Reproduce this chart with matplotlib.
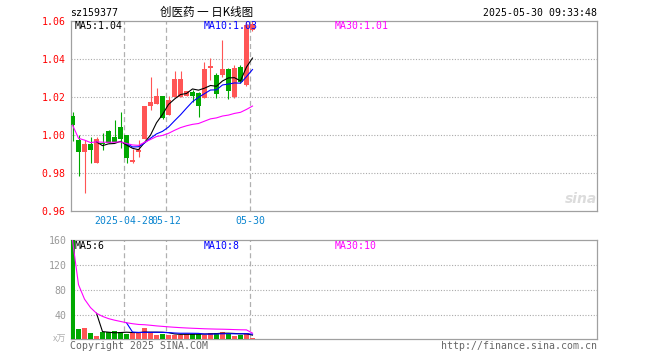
import numpy as np
import pandas as pd
import matplotlib
matplotlib.use('Agg')
import matplotlib.pyplot as plt

plt.rcParams['font.family'] = ['DejaVu Sans Mono', 'Noto Sans CJK SC']

# 31 daily sessions, 2025-04-15 .. 2025-05-30 (last one intraday)
opens = [1.0098, 0.9972, 0.9911, 0.9953, 0.9853, 0.9958, 1.0020, 0.9988, 1.0040, 0.9998,
         0.9856, 0.9911, 0.9976, 1.0151, 1.0162, 1.0204, 1.0104, 1.0197, 1.0197, 1.0205,
         1.0225, 1.0221, 1.0195, 1.0349, 1.0314, 1.0314, 1.0346, 1.0200, 1.0356, 1.0262,
         1.0550]
highs = [1.0121, 1.0000, 0.9972, 0.9986, 0.9986, 1.0007, 1.0025, 1.0077, 1.0118, 0.9998,
         0.9923, 0.9972, 1.0151, 1.0304, 1.0247, 1.0204, 1.0204, 1.0336, 1.0336, 1.0232,
         1.0235, 1.0225, 1.0384, 1.0406, 1.0325, 1.0500, 1.0350, 1.0367, 1.0365, 1.0600,
         1.0620]
lows = [0.9968, 0.9783, 0.9695, 0.9849, 0.9853, 0.9920, 0.9958, 0.9960, 0.9928, 0.9849,
        0.9849, 0.9884, 0.9976, 1.0130, 1.0162, 1.0080, 1.0104, 1.0197, 1.0197, 1.0205,
        1.0170, 1.0091, 1.0195, 1.0290, 1.0195, 1.0305, 1.0190, 1.0195, 1.0270, 1.0255,
        1.0545]
closes = [1.0051, 0.9911, 0.9953, 0.9920, 0.9976, 0.9952, 0.9958, 0.9963, 0.9976, 0.9879,
          0.9867, 0.9920, 1.0151, 1.0172, 1.0204, 1.0086, 1.0183, 1.0292, 1.0292, 1.0232,
          1.0205, 1.0151, 1.0344, 1.0363, 1.0212, 1.0344, 1.0232, 1.0349, 1.0279, 1.0577,
          1.0580]
# volume in 万
volumes = [160, 16.6, 18.2, 10.2, 5.4, 11.8, 11.8, 13.4, 12.3, 8.0,
           9.6, 10.7, 18.2, 11.2, 7.5, 9.3, 7.7, 7.7, 7.7, 8.5,
           8.8, 9.3, 7.7, 9.9, 10.4, 12.0, 9.3, 5.5, 7.7, 9.9,
           1.6]

date_idx = [9, 16, 30]
date_labels = ['2025-04-28', '05-12', '05-30']
price_ticks = [0.96, 0.98, 1.00, 1.02, 1.04, 1.06]
vol_ticks = [40, 80, 120, 160]

price_legend = ['MA5:1.04', 'MA10:1.03', 'MA30:1.01']
vol_legend = ['MA5:6', 'MA10:8', 'MA30:10']

RED = '#ff5555'
GREEN = '#00a800'
GRAY = '#a0a0a0'
MA_COLORS = ['black', '#0000ff', '#ff00ff']
FS = 7.1

n = len(closes)
x = np.arange(n)
up = [c >= o for o, c in zip(opens, closes)]
colors = [RED if u else GREEN for u in up]

s = pd.Series(closes)
p_ma = [s.rolling(5).mean(), s.rolling(10).mean(), s.rolling(30, min_periods=1).mean()]
v = pd.Series(volumes)
v_ma = [v.rolling(5).mean(), v.rolling(10).mean(), v.rolling(30, min_periods=1).mean()]

fig = plt.figure(figsize=(6.6, 3.6), dpi=100)
W, H = 660, 360


def add_ax(left, top, right, bottom):
    return fig.add_axes([left / W, 1 - bottom / H, (right - left) / W, (bottom - top) / H])


ax = add_ax(70.7, 20.7, 597, 210.7)
axv = add_ax(70.7, 240.3, 597, 339.3)

xlim = (-0.3, (597 - 72.5) / 6)
line_x = [i - 0.37 for i in date_idx]

for a in (ax, axv):
    a.set_xlim(*xlim)
    for sp in a.spines.values():
        sp.set_color(GRAY)
        sp.set_linewidth(0.9)
    for lx in line_x:
        a.axvline(lx, color='#b0b0b0', lw=0.9, ls=(0, (4, 2.5)), zorder=1)

# price panel
ax.set_ylim(0.96, 1.06)
ax.set_yticks(price_ticks)
ax.set_yticklabels([f'{t:.2f}' for t in price_ticks], color='#ff0000', fontsize=FS)
for t in price_ticks[1:-1]:
    ax.axhline(t, color='#aaaaaa', lw=0.8, ls=(0, (1, 1.5)), zorder=1)
ax.set_xticks(line_x)
ax.set_xticklabels(date_labels, color='#0a85d0', fontsize=FS)
ax.tick_params(length=0, pad=3.5)

ax.vlines(x, lows, highs, colors=colors, lw=0.8, zorder=2)
bottoms = [min(o, c) for o, c in zip(opens, closes)]
heights = [max(abs(c - o), 0.0004) for o, c in zip(opens, closes)]
ax.bar(x, heights, bottom=bottoms, width=0.8, color=colors, lw=0, zorder=3)

for ma, col in zip(p_ma, MA_COLORS):
    ax.plot(x, ma, color=col, lw=0.8, zorder=4)

for txt, col, px in zip(price_legend, MA_COLORS, [75, 204, 335]):
    fig.text(px / W, 1 - 26 / H, txt, color=col, fontsize=FS, va='center', ha='left')

# volume panel
axv.set_ylim(0, 160)
axv.set_yticks(vol_ticks)
axv.set_yticklabels([str(t) for t in vol_ticks], color='#999999', fontsize=FS)
for t in vol_ticks[:-1]:
    axv.axhline(t, color='#aaaaaa', lw=0.8, ls=(0, (1, 1.5)), zorder=1)
axv.set_xticks([])
axv.tick_params(length=0, pad=3)

axv.bar(x, volumes, width=0.8, color=colors, lw=0, zorder=3)
for ma, col in zip(v_ma, MA_COLORS):
    axv.plot(x, ma, color=col, lw=0.8, zorder=4)

for txt, col, px in zip(vol_legend, MA_COLORS, [75, 204, 335]):
    fig.text(px / W, 1 - 246 / H, txt, color=col, fontsize=FS, va='center', ha='left')

# header / footer texts
fig.text(70 / W, 1 - 13 / H, 'sz159377', fontsize=FS, va='center', ha='left')
fig.text(207 / W, 1 - 12 / H, '创医药 一 日K线图', fontsize=8.3, va='center', ha='center',
         family=['Noto Sans CJK SC', 'DejaVu Sans'])
fig.text(597 / W, 1 - 13 / H, '2025-05-30 09:33:48', fontsize=FS, va='center', ha='right')
fig.text(66 / W, 1 - 339 / H, 'x万', fontsize=6.5, va='center', ha='right', color='#b0b0b0',
         family=['Noto Sans CJK SC', 'DejaVu Sans'])
fig.text(70 / W, 1 - 346 / H, 'Copyright 2025 SINA.COM', fontsize=FS, va='center', ha='left', color='#666666')
fig.text(597 / W, 1 - 346 / H, 'http://finance.sina.com.cn', fontsize=FS, va='center', ha='right', color='#666666')
fig.text(597 / W, 1 - 199 / H, 'sina', fontsize=10, va='center', ha='right', color='#dcdcdc',
         style='italic', weight='bold', family='DejaVu Sans')

fig.savefig('out.png', dpi=100, facecolor='white')
